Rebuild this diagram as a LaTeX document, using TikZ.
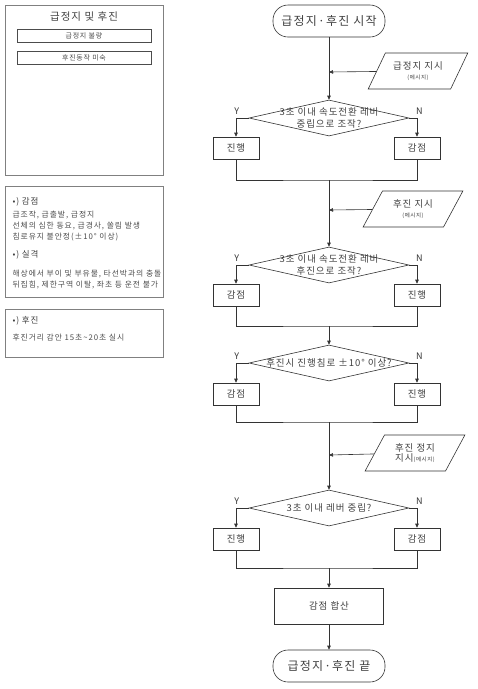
\documentclass[tikz,border=0pt]{standalone}
\usepackage{fontspec}
\setmainfont{Noto Sans CJK KR}[LetterSpace=10]
\usetikzlibrary{shapes.geometric,arrows.meta,positioning}
\newcommand{\msgnote}[1]{{\fontsize{5.5}{7}\selectfont #1}}

\begin{document}
\begin{tikzpicture}[x=1pt,y=-1pt,
    line/.style={draw=black!80, line width=0.6pt},
    arr/.style={line, -{Triangle[length=4pt,width=3.5pt]}},
    term/.style={line, rounded corners=15pt, minimum width=112pt, minimum height=32pt, text=black!75, font=\fontsize{12}{14}\selectfont},
    proc/.style={line, minimum width=46pt, minimum height=22pt, text=black!75, font=\fontsize{9.5}{11}\selectfont},
    dec/.style={line, diamond, minimum width=160pt, minimum height=36pt, inner sep=0pt},
    dectxt/.style={align=center, text=black!75, font=\fontsize{9.5}{12}\selectfont},
    msg/.style={line, trapezium, trapezium left angle=60, trapezium right angle=120, trapezium stretches=true, minimum width=100pt, minimum height=36pt, align=center, text=black!75, font=\fontsize{9.5}{12}\selectfont},
    yn/.style={text=black!80, font=\fontsize{9}{10}\selectfont},
    panel/.style={draw=black!50, line width=0.7pt, minimum width=158pt},
    tag/.style={draw=black!70, line width=0.6pt, minimum width=134pt, minimum height=13pt, inner sep=0pt, text=black!70, font=\fontsize{7}{8}\selectfont},
    note/.style={anchor=west, align=left, text=black!70, font=\fontsize{7.8}{11}\selectfont\addfontfeatures{LetterSpace=12}},
    head/.style={anchor=west, text=black!75, font=\fontsize{8.5}{9}\selectfont}
  ]
  \useasboundingbox (0,0) rectangle (478,689);

  % left panels
  \node[panel, minimum height=170pt] (pa) at (84,90) {};
  \node[text=black!75, font=\fontsize{10.5}{12}\selectfont] (pat) at (84,17) {급정지 및 후진};
  \node[tag] (ta) at (84,35.5) {급정지 불량};
  \node[tag] (tb) at (84,58) {후진동작 미숙};

  \node[panel, minimum height=111pt] (pb) at (84,241.5) {};
  \node[head] (hb1) at (9,202) {•) 감점};
  \node[note] (nb1) at (9,226) {급조작, 급출발, 급정지\\선체의 심한 동요, 급경사, 쏠림 발생\\침로유지 불안정(±10° 이상)};
  \node[head] (hb2) at (9,255) {•) 실격};
  \node[note] (nb2) at (9,279.5) {해상에서 부이 및 부유물, 타선박과의 충돌\\뒤집힘, 제한구역 이탈, 좌초 등 운전 불가};

  \node[panel, minimum height=48pt] (pc) at (84,333) {};
  \node[head] (hc1) at (9,321) {•) 후진};
  \node[note] (nc1) at (9,338) {후진거리 감안 15초\textasciitilde 20초 실시};

  % flow chart
  \node[term] (start) at (329,21) {급정지·후진 시작};
  \node[msg] (p1) at (418,71) {급정지 지시\\[-2pt]\msgnote{(메시지)}};
  \coordinate (j1) at (329,72);
  \node[dec] (d1) at (329,118) {};
  \node[dectxt] (d1t) at (d1) {3초 이내 속도전환 레버\\중립으로 조작?};
  \node[proc] (b1l) at (236,148) {진행};
  \node[proc] (b1r) at (417,148) {감점};
  \coordinate (m1) at (329,180);

  \node[msg] (p2) at (413,209) {후진 지시\\[-2pt]\msgnote{(메시지)}};
  \coordinate (j2) at (329,210);
  \node[dec] (d2) at (329,265) {};
  \node[dectxt] (d2t) at (d2) {3초 이내 속도전환 레버\\후진으로 조작?};
  \node[proc] (b2l) at (236,295) {감점};
  \node[proc] (b2r) at (417,295) {진행};
  \coordinate (m2) at (329,326);

  \node[dec] (d3) at (329,363) {};
  \node[dectxt] (d3t) at (d3) {후진시 진행침로 ±10° 이상?};
  \node[proc] (b3l) at (236,394) {감점};
  \node[proc] (b3r) at (417,394) {진행};
  \coordinate (m3) at (329,422);

  \node[msg] (p3) at (415,453) {후진 정지\\[-2pt]지시\msgnote{(메시지)}};
  \coordinate (j3) at (329,455);
  \node[dec] (d4) at (329,508) {};
  \node[dectxt] (d4t) at (d4) {3초 이내 레버 중립?};
  \node[proc] (b4l) at (236,539) {진행};
  \node[proc] (b4r) at (417,539) {감점};
  \coordinate (m4) at (329,568);

  \node[proc, minimum width=109pt, minimum height=36pt] (sum) at (329,606) {감점 합산};
  \node[term] (end) at (329,666) {급정지·후진 끝};

  % Y / N labels
  \foreach \d in {d1,d2,d3,d4}{
    \node[yn] at ([xshift=-12pt,yshift=7pt]\d.west) {Y};
    \node[yn] at ([xshift=10pt,yshift=7pt]\d.east) {N};
  }

  % connectors
  \draw[arr] (start) -- (d1);
  \draw[arr] (p1) -- (j1);
  \draw[arr] (d1.west) -| (b1l);
  \draw[arr] (d1.east) -| (b1r);
  \draw[line] (b1l) |- (m1) -| (b1r);
  \draw[arr] (m1) -- (d2);
  \draw[arr] (p2) -- (j2);
  \draw[arr] (d2.west) -| (b2l);
  \draw[arr] (d2.east) -| (b2r);
  \draw[line] (b2l) |- (m2) -| (b2r);
  \draw[arr] (m2) -- (d3);
  \draw[arr] (d3.west) -| (b3l);
  \draw[arr] (d3.east) -| (b3r);
  \draw[line] (b3l) |- (m3) -| (b3r);
  \draw[arr] (m3) -- (d4);
  \draw[arr] (p3) -- (j3);
  \draw[arr] (d4.west) -| (b4l);
  \draw[arr] (d4.east) -| (b4r);
  \draw[line] (b4l) |- (m4) -| (b4r);
  \draw[arr] (m4) -- (sum);
  \draw[arr] (sum) -- (end);
\end{tikzpicture}
\end{document}
